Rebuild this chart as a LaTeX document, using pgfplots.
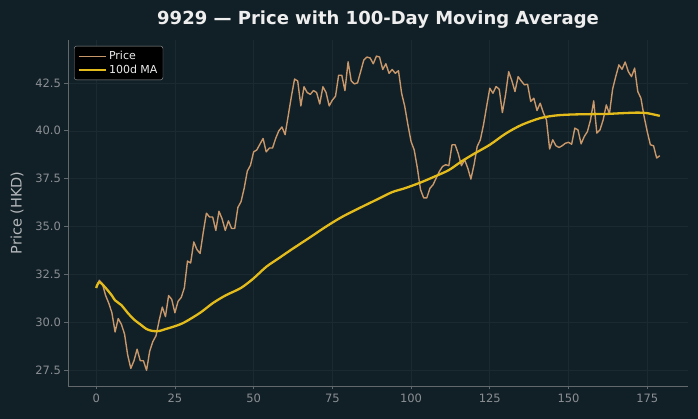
\documentclass[border=0pt]{standalone}
\usepackage{fontspec}
\setmainfont{DejaVu Sans}
\usepackage{pgfplots}
\usepackage{pgfplotstable}
\pgfplotsset{compat=1.18}
\definecolor{bg}{HTML}{111F26}
\definecolor{gridc}{HTML}{1B2930}
\definecolor{spine}{HTML}{62686C}
\definecolor{tickc}{HTML}{8A8F93}
\definecolor{labc}{HTML}{B4B8BB}
\definecolor{titc}{HTML}{EEEEEE}
\definecolor{pricec}{HTML}{C8976A}
\definecolor{mac}{HTML}{E3BC1C}
\definecolor{legbd}{HTML}{9A9FA3}

\pgfplotstableread{
d p
0 31.8
1 32.2
2 32.0
3 31.4
4 31.0
5 30.5
6 29.5
7 30.2
8 29.9
9 29.4
10 28.3
11 27.6
12 28.0
13 28.6
14 28.0
15 28.0
16 27.5
17 28.5
18 29.0
19 29.3
20 30.1
21 30.8
22 30.3
23 31.4
24 31.2
25 30.5
26 31.1
27 31.3
28 31.8
29 33.2
30 33.1
31 34.2
32 33.8
33 33.6
34 34.7
35 35.7
36 35.5
37 35.5
38 34.8
39 35.8
40 35.4
41 34.8
42 35.3
43 34.9
44 34.9
45 36.0
46 36.3
47 37.0
48 37.9
49 38.2
50 38.9
51 39.0
52 39.3
53 39.6
54 38.9
55 39.1
56 39.1
57 39.6
58 40.0
59 40.2
60 39.8
61 40.8
62 41.8
63 42.7
64 42.6
65 41.3
66 42.3
67 42.0
68 41.9
69 42.1
70 42.0
71 41.4
72 42.3
73 42.0
74 41.3
75 41.6
76 41.8
77 42.9
78 42.9
79 42.1
80 43.6
81 42.6
82 42.45
83 42.5
84 43.1
85 43.7
86 43.85
87 43.8
88 43.5
89 43.9
90 43.85
91 43.2
92 43.5
93 43.0
94 43.2
95 43.0
96 43.14
97 41.96
98 41.27
99 40.31
100 39.44
101 39.0
102 38.06
103 36.93
104 36.5
105 36.5
106 37.0
107 37.19
108 37.54
109 37.88
110 38.14
111 38.23
112 38.18
113 39.27
114 39.27
115 38.8
116 38.18
117 38.49
118 38.06
119 37.48
120 38.23
121 39.18
122 39.53
123 40.31
124 41.27
125 42.22
126 41.96
127 42.31
128 42.17
129 40.95
130 41.88
131 43.09
132 42.62
133 42.05
134 42.83
135 42.6
136 42.4
137 42.43
138 41.53
139 41.7
140 41.06
141 41.44
142 40.95
143 40.57
144 39.05
145 39.53
146 39.22
147 39.13
148 39.22
149 39.35
150 39.4
151 39.3
152 40.14
153 40.05
154 39.32
155 39.7
156 39.96
157 40.57
158 41.56
159 39.88
160 40.05
161 40.57
162 41.35
163 40.89
164 42.17
165 42.83
166 43.44
167 43.21
168 43.59
169 43.09
170 42.83
171 43.27
172 42.05
173 41.7
174 40.75
175 39.96
176 39.27
177 39.22
178 38.58
179 38.7
}\pricetable

\pgfplotstableread{
d m
0 31.8
1 32.1
3 31.8
5 31.4
6 31.15
8 30.9
10 30.5
12 30.15
14 29.9
16 29.65
18 29.55
20 29.55
22 29.65
25 29.8
28 30.0
33 30.5
37 31.0
41 31.4
46 31.8
50 32.3
54 32.9
58 33.35
62 33.8
68 34.45
73 35.0
78 35.5
84 36.0
89 36.4
94 36.8
98 37.0
103 37.3
108 37.65
112 37.95
116 38.4
120 38.8
125 39.27
130 39.85
135 40.3
141 40.66
146 40.8
151 40.85
157 40.87
162 40.88
167 40.92
172 40.95
175 40.92
179 40.78
}\matable

\begin{document}
\begin{tikzpicture}
\fill[bg] (-68pt,-33pt) rectangle (630pt,386pt);
\begin{axis}[
  scale only axis, width=620pt, height=346pt,
  xmin=-8.95, xmax=187.95, ymin=26.68, ymax=44.74,
  axis background/.style={fill=bg},
  axis x line*=bottom, axis y line*=left,
  axis line style={draw=spine, line width=0.8pt, -},
  xtick={0,25,...,175}, ytick={27.5,30,32.5,35,37.5,40,42.5},
  y tick label style={/pgf/number format/.cd, fixed, fixed zerofill, precision=1},
  /pgf/number format/assume math mode=true,
  tick style={draw=spine, line width=0.8pt},
  tick align=outside, major tick length=3.5pt,
  ticklabel style={font=\fontsize{11.5}{13}\selectfont, text=tickc},
  xticklabel style={yshift=-1pt},
  grid=major, grid style={draw=gridc, line width=0.6pt},
  ylabel={Price (HKD)},
  ylabel style={font=\fontsize{14.5}{16}\selectfont, text=labc, at={(axis description cs:-0.082,0.5)}, anchor=center},
  legend style={at={(axis description cs:0.0097,0.983)}, anchor=north west, fill=black, draw=legbd, rounded corners=2.5pt, text=white!92!black, font=\fontsize{11}{13}\selectfont, inner xsep=3.5pt, inner ysep=3.2pt, row sep=-0.3pt},
  legend cell align=left,
  legend image code/.code={\draw[#1] (0pt,0pt) -- (22pt,0pt); \path (0pt,0pt) -- (27pt,0pt);},
]
\addplot[draw=pricec, line width=1.4pt, line join=round] table[x=d, y=p] {\pricetable};
\addlegendentry{Price}
\addplot[draw=mac, line width=2.3pt, smooth, line join=round] table[x=d, y=m] {\matable};
\addlegendentry{100d MA}
\end{axis}
\node[anchor=base, text=titc, font=\bfseries\fontsize{18}{21}\selectfont] at (310pt,361pt) {9929 — Price with 100-Day Moving Average};
\end{tikzpicture}
\end{document}
